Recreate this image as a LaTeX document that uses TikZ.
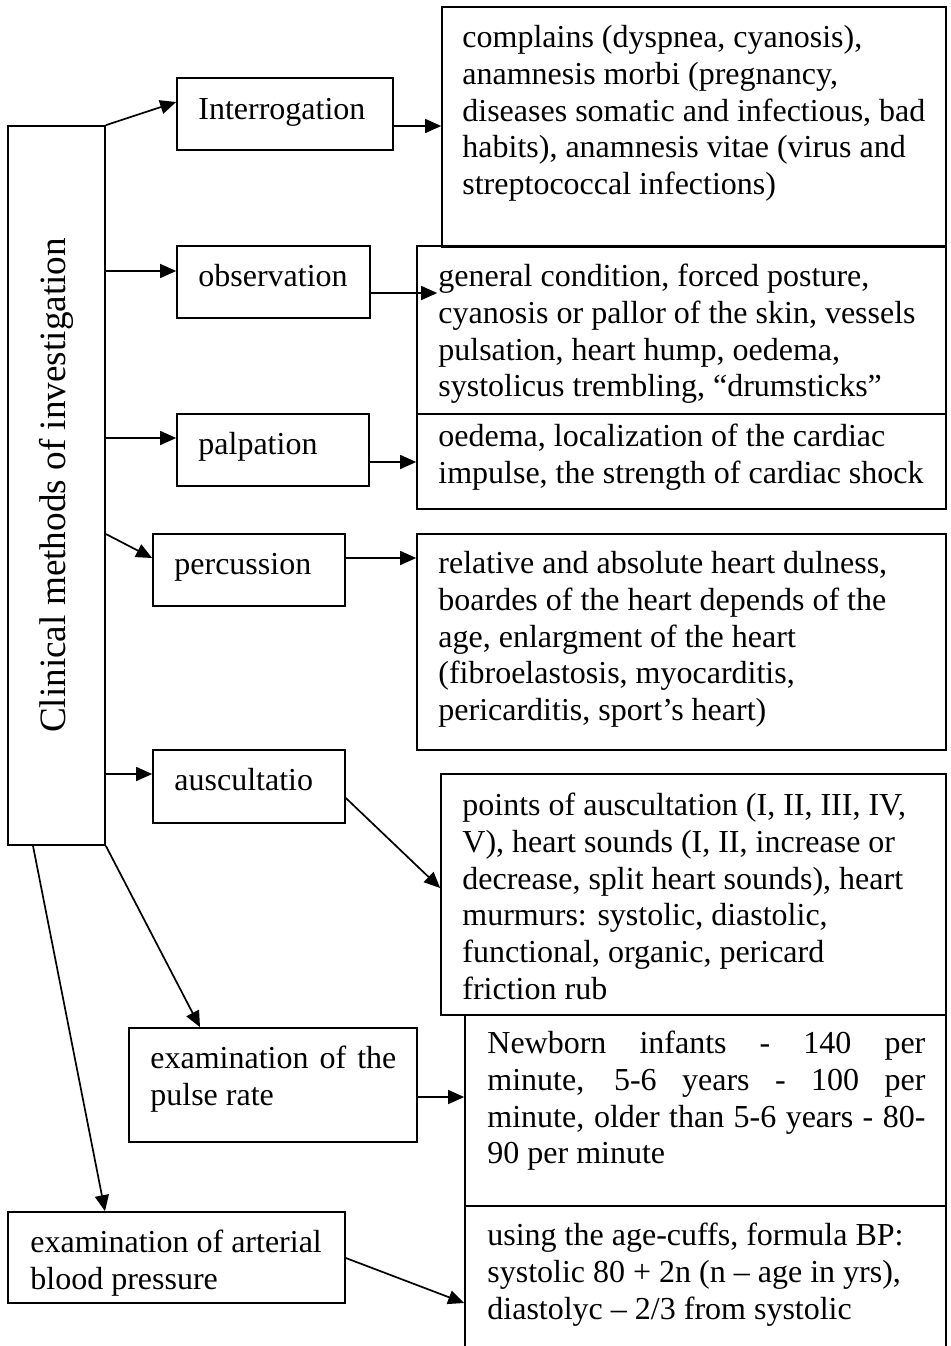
\documentclass[tikz,border=0pt]{standalone}
\usepackage{fontspec}
\setmainfont{Liberation Serif}
\usetikzlibrary{arrows.meta,fit}

\begin{document}
\begin{tikzpicture}[x=0.5pt,y=-0.5pt,
  box/.style={draw,line width=0.85pt,inner sep=0pt},
  txt/.style={anchor=north west,yshift=12.88pt,inner sep=0pt,align=left,
    font=\fontsize{16}{18.4}\selectfont},
  arr/.style={line width=0.85pt,-{Triangle[length=8pt,width=7pt]}}]
\useasboundingbox (0,0) rectangle (951,1346);

\node[box,fit={(8,126) (105,845)}] (main) {};
\node[rotate=90,inner sep=0pt,font=\fontsize{18.6}{21}\selectfont] (mainT) at (main.center) {Clinical methods of investigation};

\node[box,fit={(177,78) (393,150)}] (int) {};
\node[txt] (intT) at (198,119) {\strut Interrogation};
\node[box,fit={(177,246) (370,318)}] (obs) {};
\node[txt] (obsT) at (198,286) {\strut observation};
\node[box,fit={(177,414) (369,486)}] (palp) {};
\node[txt] (palpT) at (198,454) {\strut palpation};
\node[box,fit={(153,534) (345,606)}] (perc) {};
\node[txt] (percT) at (174,574) {\strut percussion};
\node[box,fit={(153,750) (345,823)}] (ausc) {};
\node[txt] (auscT) at (174,790) {\strut auscultatio};
\node[box,fit={(129,1028) (417,1142)}] (pulse) {};
\node[txt] (pulseT) at (150,1068) {\strut\makebox[123pt][s]{examination of the}\\pulse rate};
\node[box,fit={(8,1212) (345,1303)}] (bpl) {};
\node[txt] (bplT) at (30,1252) {\strut examination of arterial\\blood pressure};

\node[box,fit={(442,7) (946,247)}] (compl) {};
\node[txt] (complT) at (462,47) {\strut complains (dyspnea, cyanosis),\\anamnesis morbi (pregnancy,\\diseases somatic and infectious, bad\\habits), anamnesis vitae (virus and\\streptococcal infections)};
\node[box,fit={(417,246) (946,414)}] (obsR) {};
\node[txt] (obsRT) at (438,286) {\strut general condition, forced posture,\\cyanosis or pallor of the skin, vessels\\pulsation, heart hump, oedema,\\systolicus trembling, “drumsticks”};
\node[box,fit={(417,414) (946,509)}] (palpR) {};
\node[txt] (palpRT) at (438,446) {\strut oedema, localization of the cardiac\\impulse, the strength of cardiac shock};
\node[box,fit={(417,534) (946,750)}] (percR) {};
\node[txt] (percRT) at (438,573) {\strut relative and absolute heart dulness,\\boardes of the heart depends of the\\age, enlargment of the heart\\(fibroelastosis, myocarditis,\\pericarditis, sport’s heart)};
\node[box,fit={(441,774) (946,1015)}] (auscR) {};
\node[txt] (auscRT) at (462,815) {\strut points of auscultation (I, II, III, IV,\\V), heart sounds (I, II, increase or\\decrease, split heart sounds), heart\\murmurs: systolic, diastolic,\\functional, organic, pericard\\friction rub};
\node[box,fit={(465,1015) (946,1206)}] (pulseR) {};
\node[txt] (pulseRT) at (487,1053) {\strut\makebox[219pt][s]{Newborn infants - 140 per}\\\makebox[219pt][s]{minute, 5-6 years - 100 per}\\\makebox[219pt][s]{minute, older than 5-6 years - 80-}\\90 per minute};
\node[box,fit={(465,1206) (946,1356)}] (bpR) {};
\node[txt] (bpRT) at (487,1245) {\strut using the age-cuffs, formula BP:\\systolic 80 + 2n (n – age in yrs),\\diastolyc – 2/3 from systolic};

\draw[arr] (main.north east) -- (int.west |- 0,102);
\draw[arr] (main.east |- 0,271) -- (obs.west |- 0,271);
\draw[arr] (main.east |- 0,438) -- (palp.west |- 0,438);
\draw[arr] (main.east |- 0,534) -- (perc.west |- 0,558);
\draw[arr] (main.east |- 0,774) -- (ausc.west |- 0,774);
\draw[arr] (main.south east) -- (pulse.north -| 200,0);
\draw[arr] (main.south -| 33,0) -- (bpl.north -| 105,0);

\draw[arr] (int.east |- 0,126) -- (compl.west |- 0,126);
\draw[arr,shorten >=-10.5pt] (obs.east |- 0,293) -- (obsR.west |- 0,293);
\draw[arr] (palp.east |- 0,462) -- (palpR.west |- 0,462);
\draw[arr] (perc.east |- 0,558) -- (percR.west |- 0,558);
\draw[arr] (ausc.east |- 0,798) -- (auscR.west |- 0,888);
\draw[arr] (pulse.east |- 0,1097) -- (pulseR.west |- 0,1097);
\draw[arr] (bpl.east |- 0,1258) -- (bpR.west |- 0,1303);
\end{tikzpicture}
\end{document}
